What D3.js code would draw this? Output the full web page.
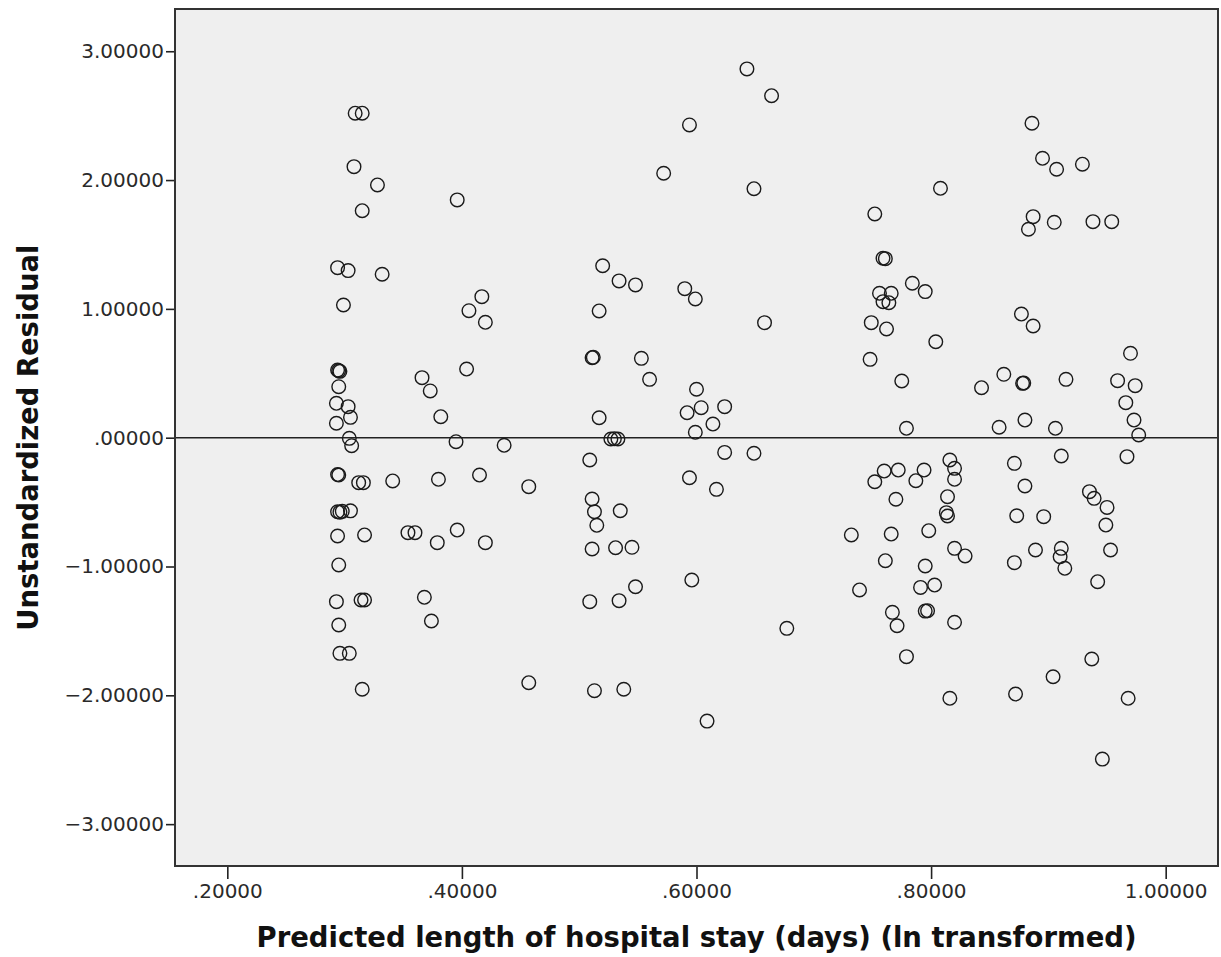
<!DOCTYPE html>
<html>
<head>
<meta charset="utf-8">
<script src="https://cdn.jsdelivr.net/npm/d3@7"></script>
<style>
  body { margin: 0; background: #fff; }
  svg { display: block; }
</style>
</head>
<body>
<div id="scatter"></div>
<script>
var svgWidth = 1221;
var svgHeight = 957;

// plot frame (pixels)
var margin = { top: 9, right: 3, bottom: 91, left: 175 };
var width = svgWidth - margin.left - margin.right;
var height = svgHeight - margin.top - margin.bottom;

// ===== data =====
// predicted length of stay (ln transformed)
var predicted = [
  0.309, 0.315, 0.308, 0.328, 0.315, 0.396, 0.294, 0.303, 0.332, 0.299,
  0.417, 0.406, 0.420, 0.295, 0.294, 0.296, 0.295, 0.293, 0.303, 0.305,
  0.293, 0.304, 0.306, 0.366, 0.373, 0.404, 0.382, 0.395, 0.436, 0.295,
  0.294, 0.312, 0.316, 0.341, 0.380, 0.415, 0.457, 0.294, 0.296, 0.298,
  0.305, 0.294, 0.317, 0.354, 0.360, 0.396, 0.379, 0.420, 0.295, 0.293,
  0.314, 0.317, 0.368, 0.374, 0.295, 0.296, 0.304, 0.315, 0.457,
  0.643, 0.664, 0.594, 0.572, 0.649, 0.520, 0.534, 0.548, 0.590, 0.599,
  0.517, 0.658, 0.511, 0.512, 0.553, 0.560, 0.600, 0.592, 0.604, 0.624,
  0.517, 0.614, 0.599, 0.527, 0.530, 0.533, 0.509, 0.624, 0.649, 0.594,
  0.617, 0.511, 0.513, 0.535, 0.515, 0.511, 0.531, 0.545, 0.596, 0.548,
  0.509, 0.534, 0.677, 0.513, 0.538, 0.609,
  0.752, 0.808, 0.759, 0.761, 0.784, 0.795, 0.756, 0.766, 0.759, 0.764,
  0.749, 0.762, 0.804, 0.748, 0.775, 0.779, 0.816, 0.820, 0.820, 0.760,
  0.772, 0.794, 0.752, 0.787, 0.770, 0.814, 0.813, 0.814, 0.766, 0.798,
  0.732, 0.820, 0.829, 0.761, 0.795, 0.739, 0.791, 0.803, 0.767, 0.771,
  0.795, 0.797, 0.820, 0.779, 0.816,
  0.886, 0.895, 0.907, 0.929, 0.887, 0.883, 0.905, 0.938, 0.954, 0.877,
  0.887, 0.970, 0.843, 0.862, 0.878, 0.879, 0.915, 0.959, 0.974, 0.966,
  0.973, 0.977, 0.858, 0.880, 0.906, 0.911, 0.967, 0.871, 0.880, 0.873,
  0.896, 0.935, 0.939, 0.950, 0.949, 0.953, 0.889, 0.911, 0.910, 0.914,
  0.871, 0.942, 0.872, 0.904, 0.937, 0.968, 0.946
];

// unstandardized residuals, same order
var residual = [
  2.519, 2.519, 2.104, 1.962, 1.762, 1.846, 1.320, 1.297, 1.269, 1.030,
  1.095, 0.986, 0.896, 0.520, 0.525, 0.515, 0.396, 0.267, 0.241, 0.158,
  0.112, -0.005, -0.062, 0.466, 0.363, 0.533, 0.163, -0.031, -0.059, -0.290,
  -0.286, -0.349, -0.349, -0.336, -0.323, -0.290, -0.380, -0.575, -0.578, -0.572,
  -0.568, -0.763, -0.755, -0.737, -0.737, -0.717, -0.815, -0.815, -0.988, -1.273,
  -1.260, -1.260, -1.239, -1.423, -1.454, -1.674, -1.674, -1.953, -1.902,
  2.863, 2.655, 2.428, 2.053, 1.933, 1.335, 1.217, 1.186, 1.157, 1.077,
  0.984, 0.893, 0.621, 0.624, 0.616, 0.453, 0.376, 0.194, 0.233, 0.241,
  0.155, 0.106, 0.042, -0.010, -0.008, -0.010, -0.173, -0.114, -0.121, -0.311,
  -0.401, -0.476, -0.575, -0.567, -0.680, -0.864, -0.854, -0.851, -1.105, -1.157,
  -1.273, -1.265, -1.480, -1.964, -1.953, -2.200,
  1.737, 1.936, 1.393, 1.390, 1.199, 1.134, 1.121, 1.121, 1.056, 1.048,
  0.893, 0.844, 0.745, 0.608, 0.440, 0.073, -0.173, -0.238, -0.323, -0.259,
  -0.251, -0.251, -0.342, -0.334, -0.478, -0.458, -0.582, -0.608, -0.748, -0.722,
  -0.755, -0.859, -0.918, -0.955, -0.996, -1.182, -1.162, -1.144, -1.356, -1.460,
  -1.346, -1.343, -1.433, -1.700, -2.023,
  2.441, 2.169, 2.084, 2.123, 1.716, 1.618, 1.672, 1.677, 1.677, 0.960,
  0.867, 0.655, 0.388, 0.492, 0.422, 0.425, 0.453, 0.443, 0.404, 0.272,
  0.137, 0.021, 0.081, 0.137, 0.073, -0.142, -0.147, -0.199, -0.375, -0.606,
  -0.613, -0.419, -0.471, -0.541, -0.678, -0.872, -0.872, -0.859, -0.924, -1.014,
  -0.970, -1.118, -1.990, -1.856, -1.718, -2.023, -2.495
];

var xTicks = [0.2, 0.4, 0.6, 0.8, 1.0];
var yTicks = [-3, -2, -1, 0, 1, 2, 3];

var xTitle = "Predicted length of hospital stay (days) (ln transformed)";
var yTitle = "Unstandardized Residual";

var points = predicted.map(function(d, i) {
  return { x: d, y: residual[i] };
});

// ===== chart =====
var svg = d3.select("#scatter")
  .append("svg")
  .attr("width", svgWidth)
  .attr("height", svgHeight);

var chartGroup = svg.append("g")
  .attr("transform", `translate(${margin.left}, ${margin.top})`);

var xLinearScale = d3.scaleLinear()
  .domain([0.1554, 1.0446])
  .range([0, width]);

var yLinearScale = d3.scaleLinear()
  .domain([-3.325, 3.328])
  .range([height, 0]);

// spss style number labels: ".20000", "−1.00000"
function spssFormat(v) {
  var s = d3.format(".5f")(Math.abs(v));
  if (s.charAt(0) === "0") s = s.slice(1);
  return (v < 0 ? "\u2212" : "") + s;
}

// plot background
chartGroup.append("rect")
  .attr("width", width)
  .attr("height", height)
  .attr("fill", "#efefef");

// x axis
var bottomAxis = d3.axisBottom(xLinearScale)
  .tickValues(xTicks)
  .tickFormat(spssFormat)
  .tickSize(13)
  .tickPadding(5);

var xAxis = chartGroup.append("g")
  .attr("transform", `translate(0, ${height})`)
  .call(bottomAxis);

// y axis
var leftAxis = d3.axisLeft(yLinearScale)
  .tickValues(yTicks)
  .tickFormat(spssFormat)
  .tickSize(9)
  .tickPadding(2);

var yAxis = chartGroup.append("g")
  .call(leftAxis);

[xAxis, yAxis].forEach(function(ax) {
  ax.select(".domain").remove();
  ax.selectAll(".tick line").attr("stroke", "#222").attr("stroke-width", 1.6);
  ax.selectAll(".tick text")
    .attr("fill", "#2a2a2a")
    .style("font-family", "'DejaVu Sans', Verdana, sans-serif")
    .style("font-size", "20px");
});

// reference line at zero
chartGroup.append("line")
  .attr("x1", 0)
  .attr("x2", width)
  .attr("y1", yLinearScale(0))
  .attr("y2", yLinearScale(0))
  .attr("stroke", "#222")
  .attr("stroke-width", 1.5);

// points
chartGroup.selectAll("circle")
  .data(points)
  .enter()
  .append("circle")
  .attr("cx", d => xLinearScale(d.x))
  .attr("cy", d => yLinearScale(d.y))
  .attr("r", 6.8)
  .attr("fill", "none")
  .attr("stroke", "#1a1a1a")
  .attr("stroke-width", 1.4);

// frame
chartGroup.append("rect")
  .attr("width", width)
  .attr("height", height)
  .attr("fill", "none")
  .attr("stroke", "#333")
  .attr("stroke-width", 2);

// axis titles
svg.append("text")
  .attr("x", margin.left + width / 2)
  .attr("y", 947)
  .attr("text-anchor", "middle")
  .attr("textLength", 880)
  .attr("lengthAdjust", "spacingAndGlyphs")
  .style("font-family", "'DejaVu Sans Condensed', 'DejaVu Sans', sans-serif")
  .style("font-weight", "bold")
  .style("font-size", "29px")
  .attr("fill", "#111")
  .text(xTitle);

svg.append("text")
  .attr("transform", `translate(38, ${yLinearScale(0) + margin.top}) rotate(-90)`)
  .attr("text-anchor", "middle")
  .attr("textLength", 386)
  .attr("lengthAdjust", "spacingAndGlyphs")
  .style("font-family", "'DejaVu Sans Condensed', 'DejaVu Sans', sans-serif")
  .style("font-weight", "bold")
  .style("font-size", "29px")
  .attr("fill", "#111")
  .text(yTitle);
</script>
</body>
</html>
